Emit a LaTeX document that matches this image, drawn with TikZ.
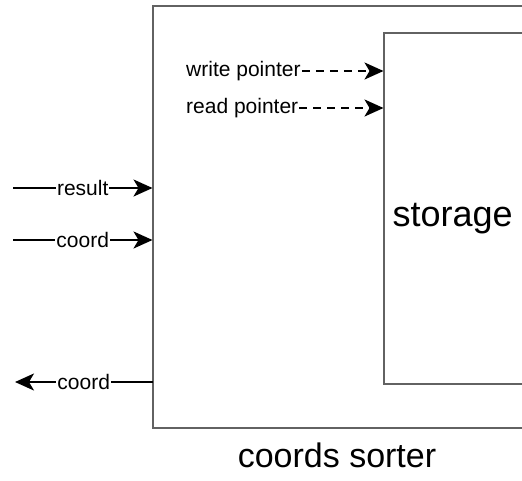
\documentclass[tikz,border=0pt]{standalone}
\usepackage{fontspec}
\setmainfont{Liberation Sans}
\usetikzlibrary{arrows.meta}
\definecolor{boxgray}{HTML}{626262}
\begin{document}
\begin{tikzpicture}[x=1pt,y=-1pt,
  box/.style={draw=boxgray, line width=2pt, fill=white, anchor=north west,
    inner sep=0pt, outer sep=0pt},
  wire/.style={line width=2pt, -{Stealth[length=19pt,width=17pt,inset=5pt]}},
  ptr/.style={wire, dash pattern=on 8pt off 6pt},
  lbl/.style={fill=white, inner sep=1pt, font=\fontsize{21}{25}\selectfont},
  big/.style={font=\fontsize{34}{40}\selectfont}]
\useasboundingbox (0,0) rectangle (522,480);

% block outlines, running off the right edge
\begin{scope}
  \clip (0,0) rectangle (522,480);
  \node[box, minimum width=380pt, minimum height=421.5pt] (sorter) at (152.5,6) {};
  \node[box, minimum width=150pt, minimum height=351.5pt] (storage) at (383.5,32.5) {};
\end{scope}

\node[big, anchor=base west, font=\fontsize{36}{42}\selectfont] (storagelbl) at (389,226) {storage};
\node[big] (title) at (337,455) {coords sorter};

% ports on the left side
\coordinate (resin) at (13,188);
\draw[wire] (resin) -- (sorter.west |- resin) node[lbl, midway] {result};
\coordinate (coordin) at (13,240);
\draw[wire] (coordin) -- (sorter.west |- coordin) node[lbl, midway] {coord};
\coordinate (coordout) at (15,382);
\draw[wire] (sorter.west |- coordout) -- (coordout) node[lbl, midway] {coord};

% pointers into the storage
\node[lbl, anchor=west] (wp) at (185,71) {write pointer};
\draw[ptr] (wp.east) -- (storage.west |- wp.east);
\node[lbl, anchor=west] (rp) at (185,108) {read pointer};
\draw[ptr] (rp.east) -- (storage.west |- rp.east);
\end{tikzpicture}
\end{document}
